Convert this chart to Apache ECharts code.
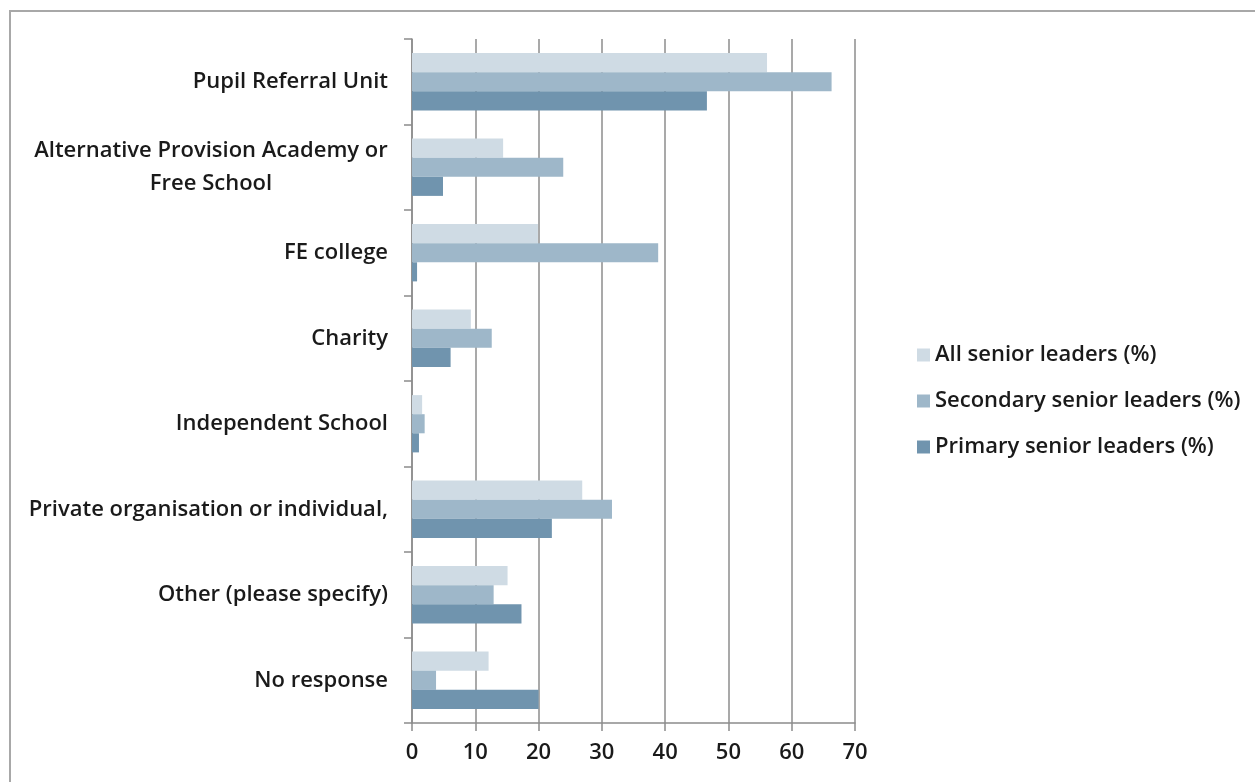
<!DOCTYPE html>
<html>
<head>
<meta charset="utf-8">
<script src="https://cdn.jsdelivr.net/npm/echarts@6/dist/echarts.min.js"></script>
<style>
  html, body { margin: 0; padding: 0; background: #ffffff; }
  #chart { width: 1255px; height: 782px; }
</style>
</head>
<body>
<div id="chart"></div>
<script>
// Where senior leaders place pupils, by school phase (percent of respondents)
const categories = [
  'Pupil Referral Unit',
  'Alternative Provision Academy or\nFree School',
  'FE college',
  'Charity',
  'Independent School',
  'Private organisation or individual,',
  'Other (please specify)',
  'No response'
];
const seriesNames = [
  'All senior leaders (%)',
  'Secondary senior leaders (%)',
  'Primary senior leaders (%)'
];
const allLeaders       = [56.1, 14.4, 19.9,  9.3, 1.6, 26.9, 15.1, 12.1];
const secondaryLeaders = [66.3, 23.9, 38.9, 12.6, 2.0, 31.6, 12.9,  3.8];
const primaryLeaders   = [46.6,  4.9,  0.8,  6.1, 1.1, 22.1, 17.3, 20.0];
const xTicks = [0, 10, 20, 30, 40, 50, 60, 70];

const colors = ['#cfdbe4', '#9eb7c9', '#7094ae'];
const FONT = 'Open Sans';
const FONT_SIZE = 22;
const FONT_WEIGHT = 600;
const TEXT = '#1a1a1a';
const GRID_GRAY = '#8c8c8c';

// width of the widest line of a wrapped label, used to centre its lines
function textWidth(str) {
  const c = document.createElement('canvas').getContext('2d');
  c.font = FONT_WEIGHT + ' ' + FONT_SIZE + 'px "' + FONT + '"';
  return Math.ceil(c.measureText(str).width);
}
const wrapWidth = Math.max.apply(null, categories
  .filter(c => c.indexOf('\n') >= 0)
  .map(c => Math.max.apply(null, c.split('\n').map(textWidth))));

const chart = echarts.init(document.getElementById('chart'), null, { renderer: 'canvas' });

const seriesData = [allLeaders, secondaryLeaders, primaryLeaders];
const labelFont = { fontFamily: FONT, fontSize: FONT_SIZE, fontWeight: FONT_WEIGHT, color: TEXT };

chart.setOption({
  backgroundColor: '#ffffff',
  animation: false,
  textStyle: { fontFamily: FONT },
  graphic: [{
    type: 'rect',
    shape: { x: 10, y: 11, width: 1400, height: 900 },
    style: { fill: 'none', stroke: '#a8a8a8', lineWidth: 2 },
    silent: true
  }],
  grid: { left: 412, top: 39, width: 443, height: 684, containLabel: false },
  legend: {
    orient: 'vertical',
    left: 912,
    top: 339,
    icon: 'rect',
    itemWidth: 13,
    itemHeight: 13,
    itemGap: 24,
    textStyle: Object.assign({ lineHeight: 22 }, labelFont),
    data: seriesNames
  },
  xAxis: {
    type: 'value',
    min: 0,
    max: 70,
    interval: 10,
    axisLine: { show: true, lineStyle: { color: GRID_GRAY, width: 1.5 } },
    axisTick: { show: true, length: 8, lineStyle: { color: GRID_GRAY, width: 1.5 } },
    splitLine: { show: true, lineStyle: { color: GRID_GRAY, width: 1.5 } },
    axisLabel: Object.assign({
      margin: 19,
      formatter: v => (xTicks.indexOf(v) >= 0 ? String(v) : '')
    }, labelFont)
  },
  yAxis: {
    type: 'category',
    inverse: true,
    data: categories,
    axisLine: { show: true, lineStyle: { color: GRID_GRAY, width: 1.5 } },
    axisTick: { show: true, length: 8, alignWithLabel: false, lineStyle: { color: GRID_GRAY, width: 1.5 } },
    splitLine: { show: false },
    axisLabel: Object.assign({
      margin: 24,
      interval: 0,
      formatter: function (v) {
        if (v.indexOf('\n') < 0) return v;
        return v.split('\n').map(l => '{w|' + l + '}').join('\n');
      },
      rich: {
        w: Object.assign({ width: wrapWidth, align: 'center', lineHeight: 33 }, labelFont)
      }
    }, labelFont)
  },
  series: seriesNames.map((name, i) => ({
    name: name,
    type: 'bar',
    data: seriesData[i],
    barGap: '0%',
    barCategoryGap: '33%',
    itemStyle: { color: colors[i] },
    emphasis: { disabled: true }
  }))
});
</script>
</body>
</html>
